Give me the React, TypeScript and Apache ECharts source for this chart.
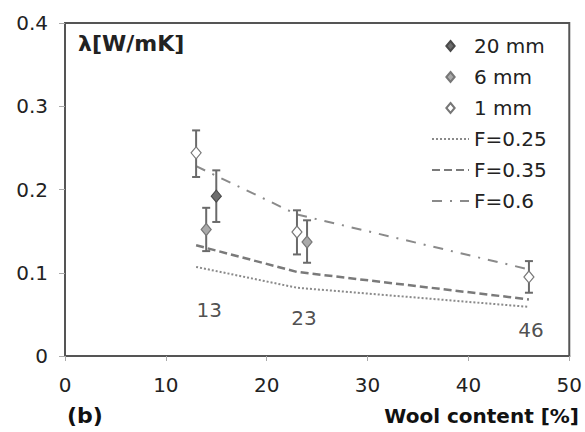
import React, { useEffect, useRef } from "react";
import * as echarts from "echarts";

// Measured points with error bars: [x, y, low, high]
const data20mm: number[][] = [[15, 0.192, 0.161, 0.223]];
const data6mm: number[][] = [
  [14, 0.152, 0.126, 0.178],
  [24, 0.137, 0.112, 0.163],
];
const data1mm: number[][] = [
  [13, 0.244, 0.215, 0.271],
  [23, 0.149, 0.122, 0.175],
  [46, 0.095, 0.076, 0.114],
];

// Model curves
const lineF025: number[][] = [[13, 0.107], [23, 0.082], [46, 0.059]];
const lineF035: number[][] = [[13, 0.133], [23, 0.101], [46, 0.068]];
const lineF06: number[][] = [[13, 0.228], [23, 0.17], [46, 0.104]];

// Annotations (wool content labels)
const annotations: [number, number, string][] = [
  [14.3, 0.055, "13"],
  [23.7, 0.046, "23"],
  [46.2, 0.031, "46"],
];

const FONT = "DejaVu Sans";
const DIAMOND = "path://M5,0L10,6L5,12L0,6Z";

export default function App() {
  const ref = useRef<HTMLDivElement>(null);
  useEffect(() => {
    if (!ref.current) return;
    const chart = echarts.init(ref.current, undefined, { renderer: "svg" });

    const errorSeries = (name: string, d: number[][]) => ({
      type: "custom",
      name: name + " err",
      data: d,
      z: 2,
      renderItem: (params: any, api: any) => {
        const x = api.value(0);
        const lo = api.coord([x, api.value(2)]);
        const hi = api.coord([x, api.value(3)]);
        const w = 4;
        const st = { stroke: "#6a6a6a", lineWidth: 2 };
        return {
          type: "group",
          children: [
            { type: "line", shape: { x1: lo[0], y1: lo[1], x2: hi[0], y2: hi[1] }, style: st },
            { type: "line", shape: { x1: lo[0] - w, y1: lo[1], x2: lo[0] + w, y2: lo[1] }, style: st },
            { type: "line", shape: { x1: hi[0] - w, y1: hi[1], x2: hi[0] + w, y2: hi[1] }, style: st },
          ],
        };
      },
    });

    const scatterSeries = (name: string, d: number[][], fill: string, border: string) => ({
      type: "scatter",
      name,
      data: d.map((p) => [p[0], p[1]]),
      symbol: "diamond",
      symbolSize: [10, 12],
      z: 3,
      itemStyle: { color: fill, borderColor: border, borderWidth: 1.2, opacity: 1 },
    });

    const lineSeries = (name: string, d: number[][], type: any, color: string, width: number) => ({
      type: "line",
      name,
      data: d,
      symbol: "none",
      z: 1,
      lineStyle: { type, color, width },
      itemStyle: { color: "rgba(0,0,0,0)", borderWidth: 0 },
    });

    chart.setOption({
      animation: false,
      backgroundColor: "#ffffff",
      grid: {
        left: 65,
        right: 14,
        top: 23,
        bottom: 76,
        show: true,
        borderColor: "#555",
        borderWidth: 2,
      },
      legend: {
        data: [
          { name: "20 mm", icon: DIAMOND },
          { name: "6 mm", icon: DIAMOND },
          { name: "1 mm", icon: DIAMOND },
          { name: "F=0.25", itemStyle: { opacity: 0 } },
          { name: "F=0.35", itemStyle: { opacity: 0 } },
          { name: "F=0.6", itemStyle: { opacity: 0 } },
        ],
        orient: "vertical",
        left: 426,
        top: 31,
        itemWidth: 37,
        itemHeight: 10,
        itemGap: 11,
        itemTextGap: 5,
        selectedMode: false,
        textStyle: { fontFamily: FONT, fontSize: 20, color: "#222" },
      },
      xAxis: {
        type: "value",
        min: 0,
        max: 50,
        interval: 10,
        axisLine: { show: true, onZero: false, lineStyle: { color: "#555", width: 2 } },
        axisTick: { show: true, length: 5, lineStyle: { color: "#aaa" } },
        axisLabel: { margin: 19, fontFamily: FONT, fontSize: 20, color: "#222" },
        splitLine: { show: false },
      },
      yAxis: {
        type: "value",
        min: 0,
        max: 0.4,
        interval: 0.1,
        axisLine: { show: true, onZero: false, lineStyle: { color: "#555", width: 2 } },
        axisTick: { show: true, length: 6, lineStyle: { color: "#aaa" } },
        axisLabel: { margin: 17, fontFamily: FONT, fontSize: 20, color: "#222" },
        splitLine: { show: false },
      },
      graphic: [
        {
          type: "text",
          left: 78,
          top: 32,
          style: { text: "λ[W/mK]", font: `bold 22px "${FONT}"`, fill: "#222" },
        },
        {
          type: "text",
          left: 67,
          top: 404,
          style: { text: "(b)", font: `bold 22px "${FONT}"`, fill: "#111" },
        },
        {
          type: "text",
          right: 6,
          top: 406,
          style: { text: "Wool content [%]", font: `bold 20px "${FONT}"`, fill: "#111" },
        },
      ],
      series: [
        lineSeries("F=0.25", lineF025, [2, 2], "#8a8a8a", 2),
        lineSeries("F=0.35", lineF035, [8, 4], "#7a7a7a", 2.5),
        lineSeries("F=0.6", lineF06, [10, 8, 2, 8], "#8a8a8a", 2),
        errorSeries("20 mm", data20mm),
        errorSeries("6 mm", data6mm),
        errorSeries("1 mm", data1mm),
        scatterSeries("20 mm", data20mm, "#6e6e6e", "#4a4a4a"),
        scatterSeries("6 mm", data6mm, "#aaaaaa", "#777777"),
        scatterSeries("1 mm", data1mm, "#ffffff", "#777777"),
        {
          type: "scatter",
          name: "labels",
          data: annotations.map((a) => ({ value: [a[0], a[1]], name: a[2] })),
          symbolSize: 0,
          silent: true,
          label: {
            show: true,
            position: "inside",
            formatter: (p: any) => p.name,
            fontFamily: FONT,
            fontSize: 20,
            color: "#222",
          },
        },
      ],
    });
    return () => chart.dispose();
  }, []);
  return (
    <div
      ref={ref}
      style={{ position: "absolute", left: 0, top: 0, width: 585, height: 432 }}
    />
  );
}
